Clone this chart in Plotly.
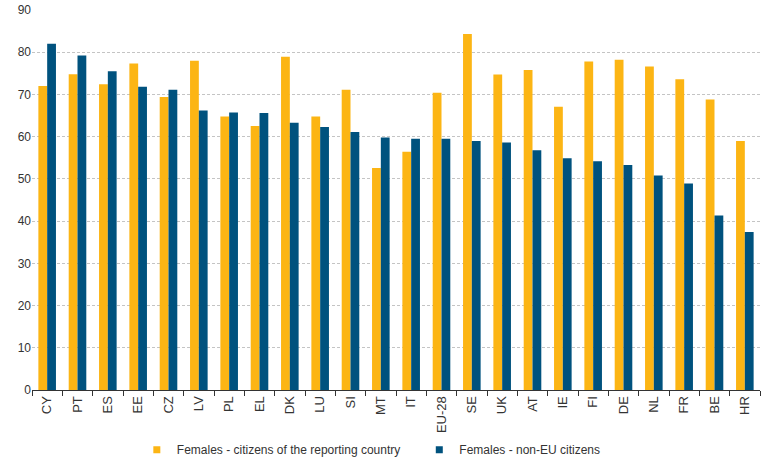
import plotly.graph_objects as go

categories = ["CY", "PT", "ES", "EE", "CZ", "LV", "PL", "EL", "DK", "LU", "SI", "MT",
              "IT", "EU-28", "SE", "UK", "AT", "IE", "FI", "DE", "NL", "FR", "BE", "HR"]
citizens = [72.0, 74.8, 72.4, 77.3, 69.4, 78.0, 64.8, 62.5, 78.9, 64.8, 71.1, 52.6,
            56.4, 70.4, 84.3, 74.7, 75.8, 67.1, 77.8, 78.2, 76.6, 73.6, 68.8, 59.0]
non_eu = [82.0, 79.2, 75.5, 71.8, 71.1, 66.2, 65.7, 65.6, 63.3, 62.3, 61.1, 59.8,
          59.5, 59.5, 59.0, 58.6, 56.8, 54.9, 54.2, 53.3, 50.8, 48.9, 41.3, 37.4]
name_citizens = "Females - citizens of the reporting country"
name_non_eu = "Females - non-EU citizens"
yticks = [0, 10, 20, 30, 40, 50, 60, 70, 80, 90]

ORANGE = "#FCB514"
BLUE = "#00527E"
TXT = "#333333"

fig = go.Figure()
fig.add_trace(go.Bar(x=categories, y=citizens, name=name_citizens,
                     marker=dict(color=ORANGE, line=dict(width=0)), showlegend=False))
fig.add_trace(go.Bar(x=categories, y=non_eu, name=name_non_eu,
                     marker=dict(color=BLUE, line=dict(width=0)), showlegend=False))
# legend entries with small square symbols
fig.add_trace(go.Scatter(x=[None], y=[None], mode="markers", name=name_citizens,
                         marker=dict(symbol="square", size=7, color=ORANGE),
                         legend="legend"))
fig.add_trace(go.Scatter(x=[None], y=[None], mode="markers", name=name_non_eu,
                         marker=dict(symbol="square", size=7, color=BLUE),
                         legend="legend2"))

leg_common = dict(orientation="h", yref="container", y=0.016, yanchor="middle",
                  xanchor="left", itemwidth=30, font=dict(size=12, color=TXT),
                  bgcolor="rgba(0,0,0,0)", borderwidth=0)

fig.update_layout(
    width=772, height=457,
    margin=dict(l=32, r=12, t=10, b=67, autoexpand=False),
    paper_bgcolor="white", plot_bgcolor="white",
    barmode="group", bargap=0.42, bargroupgap=0,
    font=dict(family="Liberation Sans, Arial, sans-serif", size=12, color=TXT),
    legend=dict(x=0.144, **leg_common),
    legend2=dict(x=0.532, **leg_common),
)
fig.update_xaxes(type="category", tickangle=-90, showgrid=False, automargin=False,
                 showline=True, linecolor=TXT, linewidth=1,
                 ticks="outside", tickson="boundaries", ticklen=5, tickcolor=TXT,
                 tickfont=dict(size=13, color=TXT))
fig.update_yaxes(range=[0, 90], tickvals=yticks, showline=False, automargin=False,
                 showgrid=True, gridcolor="#C4C4C4", griddash="3px,2px", gridwidth=1,
                 zeroline=False, ticks="", tickfont=dict(size=12, color=TXT))

fig.write_html("out.html", config={"displayModeBar": False},
               post_script="document.body.style.margin='0';document.body.style.overflow='hidden';")
